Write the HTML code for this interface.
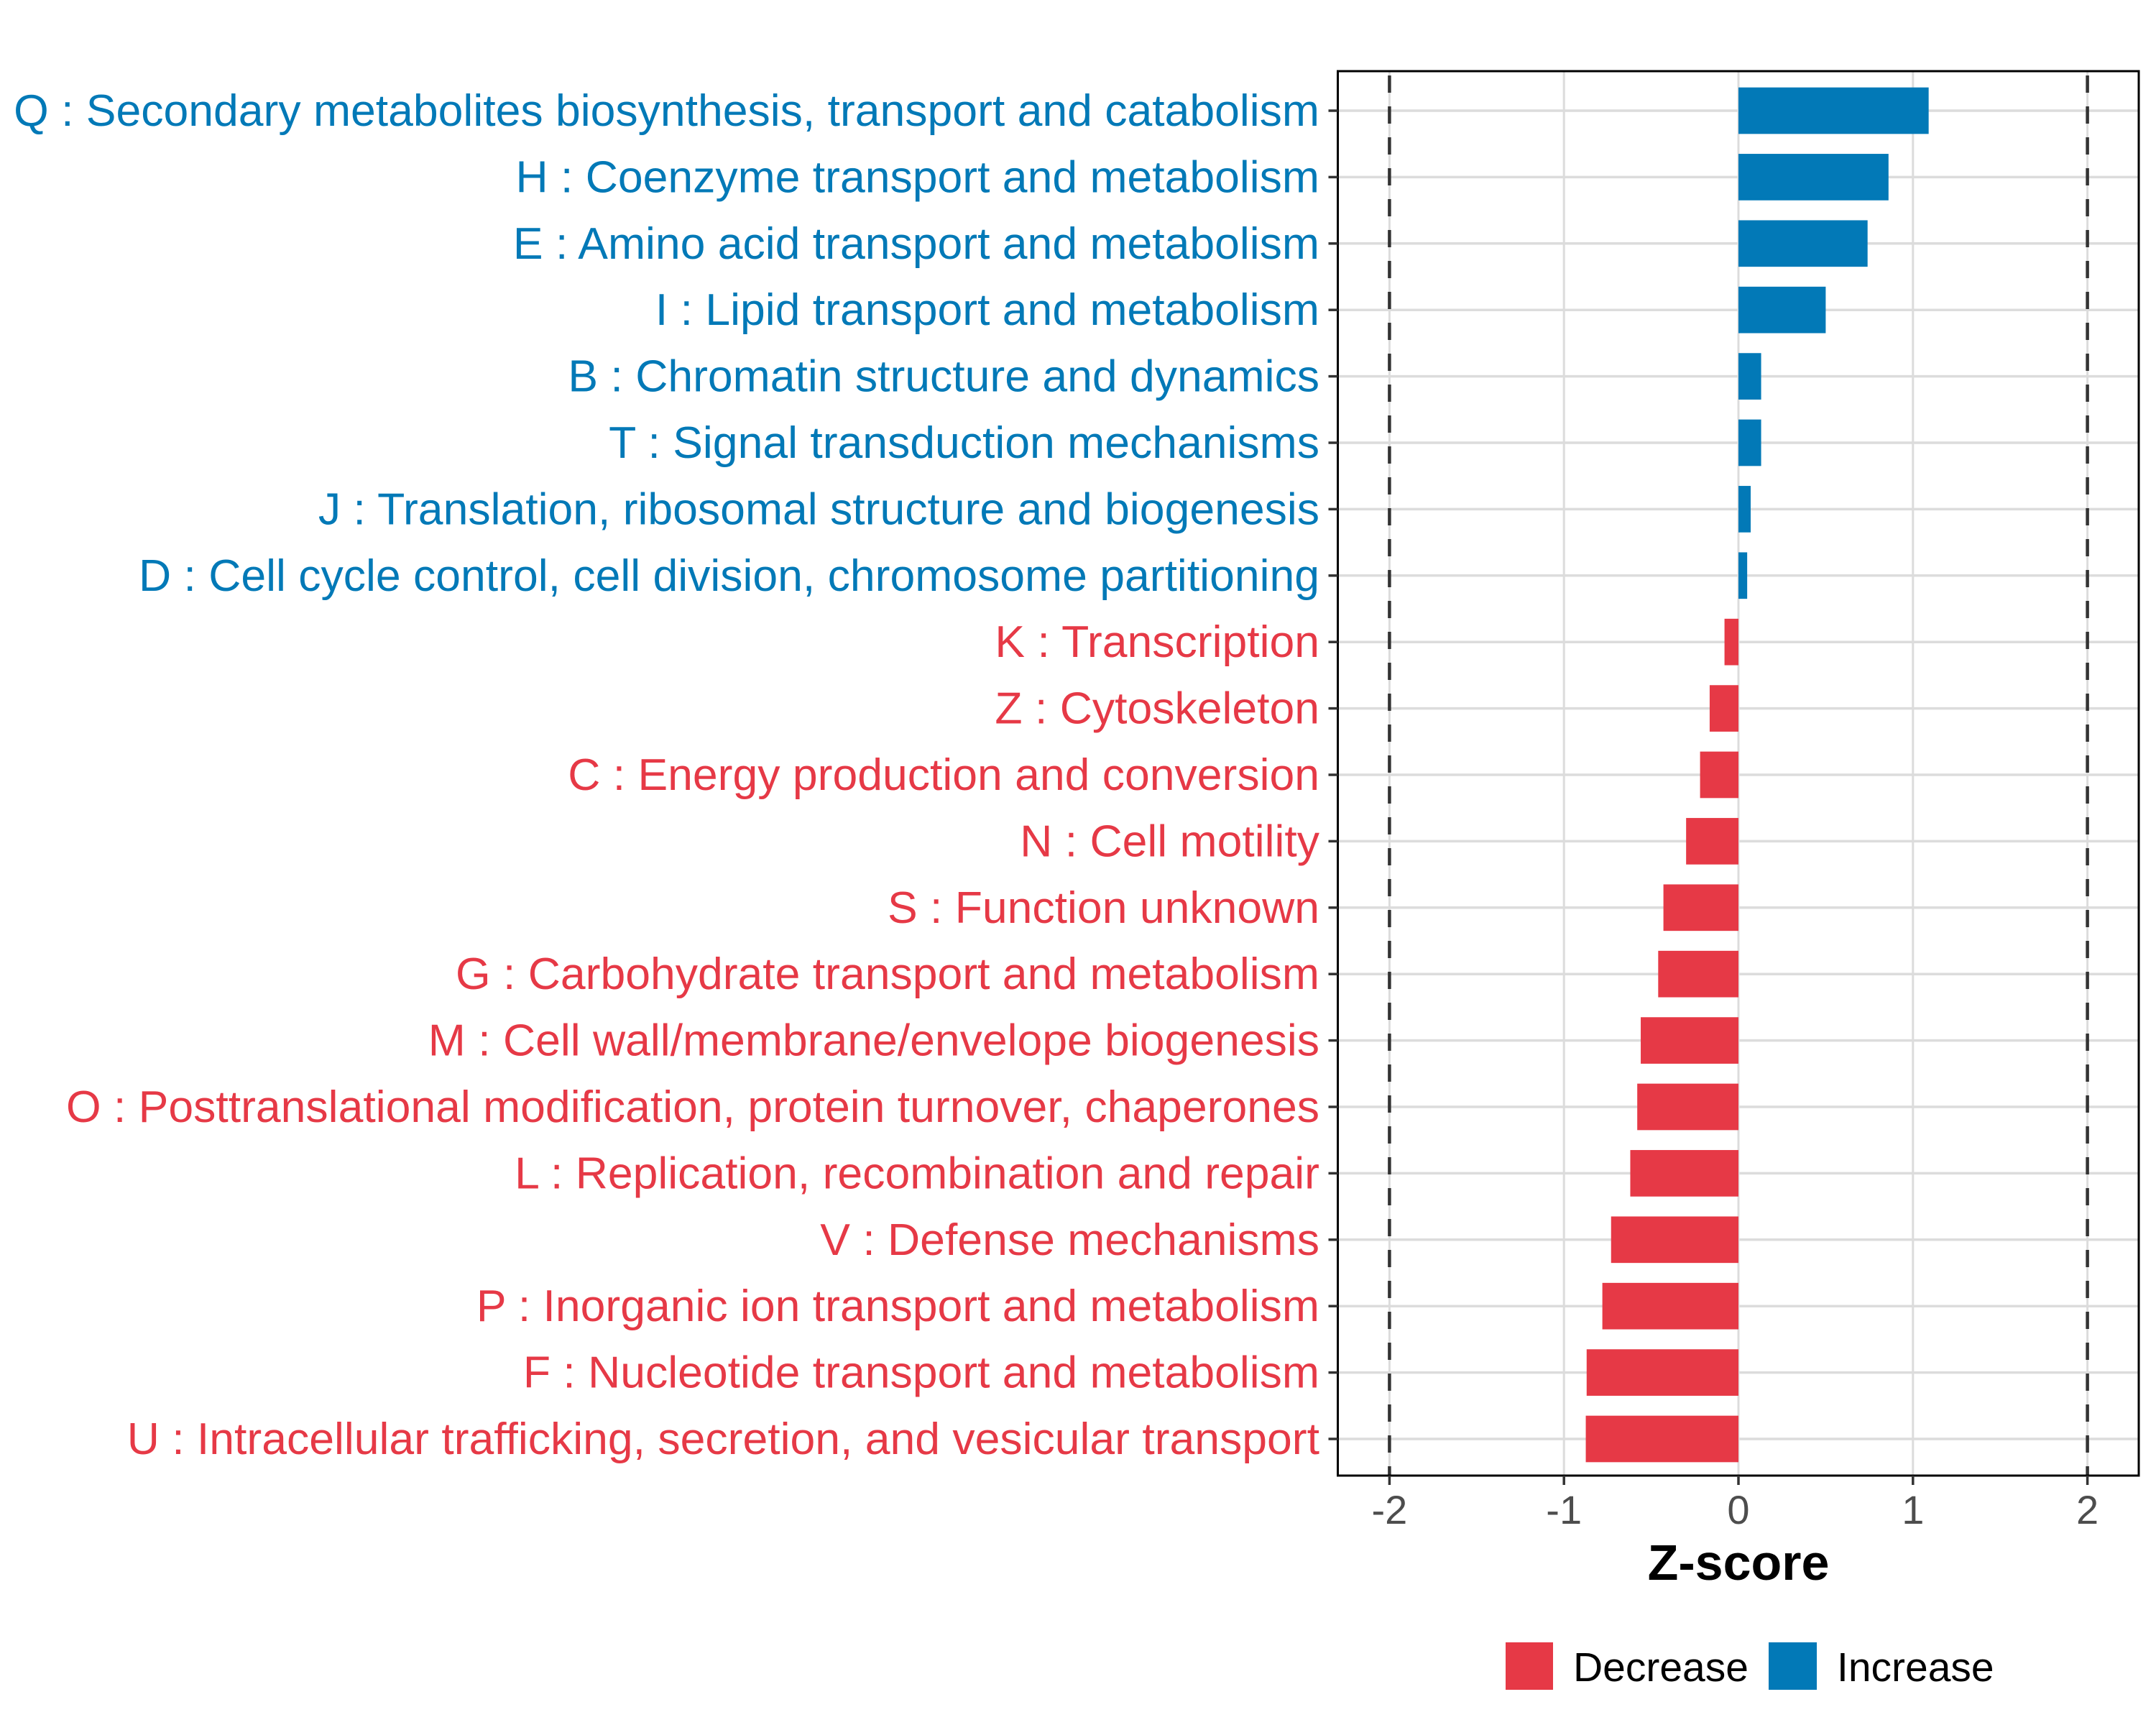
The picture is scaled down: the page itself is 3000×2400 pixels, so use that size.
<!DOCTYPE html>
<html><head><meta charset="utf-8"><style>
html,body{margin:0;padding:0;background:#fff;}
svg{display:block;font-family:"Liberation Sans",sans-serif;}
</style></head><body>
<svg id="chart" width="3000" height="2400" viewBox="0 0 3000 2400" xmlns="http://www.w3.org/2000/svg">
<g id="grid"></g>
<g id="bars"></g>
<g id="ref"></g>
<rect x="1861.5" y="99" width="1114.5" height="1954" fill="none" stroke="#000" stroke-width="3"/>
<g id="ylabels"></g>
<g id="xaxis"></g>
<text x="2419" y="2198" font-size="70" font-weight="bold" text-anchor="middle" fill="#000">Z-score</text>
<g>
<rect x="2095" y="2285" width="66" height="66" fill="#e63946"/>
<text x="2189" y="2339" font-size="57" fill="#000">Decrease</text>
<rect x="2461" y="2285" width="67" height="66" fill="#0279b7"/>
<text x="2556" y="2339" font-size="57" fill="#000">Increase</text>
</g>
</svg>
<script>
const categories = [
"Q : Secondary metabolites biosynthesis, transport and catabolism",
"H : Coenzyme transport and metabolism",
"E : Amino acid transport and metabolism",
"I : Lipid transport and metabolism",
"B : Chromatin structure and dynamics",
"T : Signal transduction mechanisms",
"J : Translation, ribosomal structure and biogenesis",
"D : Cell cycle control, cell division, chromosome partitioning",
"K : Transcription",
"Z : Cytoskeleton",
"C : Energy production and conversion",
"N : Cell motility",
"S : Function unknown",
"G : Carbohydrate transport and metabolism",
"M : Cell wall/membrane/envelope biogenesis",
"O : Posttranslational modification, protein turnover, chaperones",
"L : Replication, recombination and repair",
"V : Defense mechanisms",
"P : Inorganic ion transport and metabolism",
"F : Nucleotide transport and metabolism",
"U : Intracellular trafficking, secretion, and vesicular transport"];
const zscores = [1.09,0.86,0.74,0.5,0.13,0.13,0.07,0.05,-0.08,-0.165,-0.22,-0.3,-0.43,-0.46,-0.56,-0.58,-0.62,-0.73,-0.78,-0.87,-0.875];
const xTicks = [-2,-1,0,1,2];
const xTickLabels = ["-2","-1","0","1","2"];
const refLines = [-2,2];

const NS="http://www.w3.org/2000/svg";
const x0=2419, unit=242.8;
function xs(v){return x0+v*unit;}
const yTop=154, step=(2002-154)/(categories.length-1);
function ys(i){return yTop+i*step;}
const PL=1861.5, PR=2976, PT=99, PB=2053;
function mk(tag,attrs,parent){const e=document.createElementNS(NS,tag);for(const k in attrs)e.setAttribute(k,attrs[k]);parent.appendChild(e);return e;}
const grid=document.getElementById('grid');
xTicks.forEach((t,i)=>{
  const l=mk('line',{x1:xs(t),x2:xs(t),y1:PT,y2:PB,stroke:'#dcdcdc','stroke-width':3},grid);
  
  
});
categories.forEach((c,i)=>{
  const l=mk('line',{x1:PL,x2:PR,y1:ys(i),y2:ys(i),stroke:'#dcdcdc','stroke-width':3.5},grid);
  
  
});
const bars=document.getElementById('bars');
const bh=step*0.7;
zscores.forEach((v,i)=>{
  const a=Math.min(xs(0),xs(v)), w=Math.abs(xs(v)-xs(0));
  const r=mk('rect',{x:a,y:ys(i)-bh/2,width:w,height:bh,fill:v>=0?'#0279b7':'#e63946'},bars);
  
  
});
const ref=document.getElementById('ref');
refLines.forEach(v=>{
  const l=mk('line',{x1:xs(v),x2:xs(v),y1:PT,y2:PB,stroke:'#333','stroke-width':4.5,'stroke-dasharray':'24 19','stroke-dashoffset':'-6'},ref);
  
  
});
const yl=document.getElementById('ylabels');
categories.forEach((c,i)=>{
  const col=zscores[i]>=0?'#0279b7':'#e63946';
  const tk=mk('line',{x1:PL-13,x2:PL,y1:ys(i),y2:ys(i),stroke:'#333','stroke-width':3.5},yl);
  
  
  const t=mk('text',{x:1836,y:ys(i)+21,'font-size':62.5,'text-anchor':'end',fill:col},yl);
  t.textContent=c;
  
  
});
const xa=document.getElementById('xaxis');
xTicks.forEach((t,i)=>{
  const tk=mk('line',{x1:xs(t),x2:xs(t),y1:PB,y2:PB+13,stroke:'#333','stroke-width':3.5},xa);
  
  
  const tx=mk('text',{x:xs(t),y:2120,'font-size':56,'text-anchor':'middle',fill:'#4d4d4d'},xa);
  tx.textContent=xTickLabels[i];
  
  
});
</script>
</body></html>
